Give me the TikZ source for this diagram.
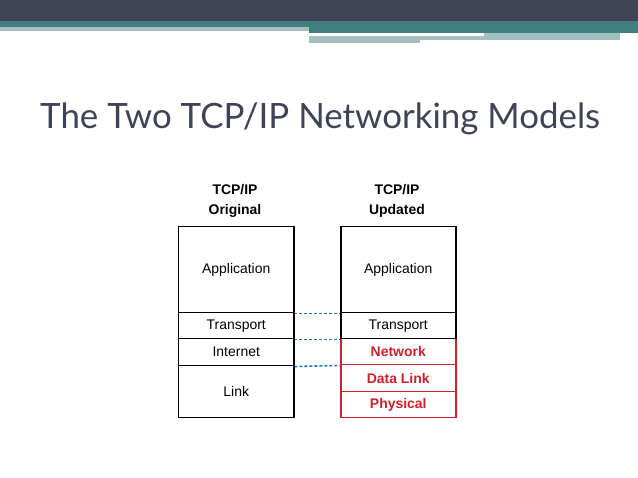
\documentclass[tikz,border=0pt]{standalone}
\usepackage{fontspec}
\setmainfont{Liberation Sans}
\newfontfamily\titlefont{Lato}
\definecolor{dark}{HTML}{404255}
\definecolor{teal}{HTML}{3F7F80}
\definecolor{lteal}{HTML}{A3BFC0}
\definecolor{lred}{HTML}{D0202A}
\definecolor{dblue}{HTML}{1F78B4}
\begin{document}
\begin{tikzpicture}[x=1bp,y=-1bp,
  lay/.style={draw=black,line width=1.5pt,minimum width=115bp,inner sep=0pt,font=\fontsize{14}{16}\selectfont},
  rlay/.style={lay,draw=lred,text=lred,font=\fontsize{14}{16}\selectfont\bfseries},
  hdr/.style={font=\fontsize{14}{20}\selectfont\bfseries,align=center},
  dl/.style={draw=dblue,line width=1.6pt,dash pattern=on 3pt off 2pt}]
\useasboundingbox (0,0) rectangle (638,478);
\fill[dark] (0,0) rectangle (638,21);
\fill[teal] (0,21) rectangle (638,27);
\fill[lteal] (0,27) rectangle (309,31);
\fill[teal] (309,27) rectangle (638,33);
\fill[lteal] (309,36) rectangle (484,40);
\fill[lteal] (484,33) rectangle (620,40);
\fill[lteal] (309,40) rectangle (420,43);
\node[anchor=west,text=dark,font=\titlefont\fontsize{35}{40}\selectfont,inner sep=0pt] (title) at (40,119) {The Two TCP/IP Networking Models};
\node[hdr] (h1) at (235,201) {TCP/IP\\Original};
\node[hdr] (h2) at (397,201) {TCP/IP\\Updated};
\node[lay,anchor=north west,minimum height=86bp] (a1) at (178,226) {Application};
\node[lay,anchor=north west,minimum height=26bp] (t1) at (178,312) {Transport};
\node[lay,anchor=north west,minimum height=27bp] (i1) at (178,338) {Internet};
\node[lay,anchor=north west,minimum height=52bp] (l1) at (178,365) {Link};
\node[rlay,anchor=north west,minimum height=26bp] (n2) at (340,338) {Network};
\node[rlay,anchor=north west,minimum height=27bp] (d2) at (340,364) {Data Link};
\node[rlay,anchor=north west,minimum height=26bp] (p2) at (340,391) {Physical};
\node[lay,anchor=north west,minimum height=86bp] (a2) at (340,226) {Application};
\node[lay,anchor=north west,minimum height=26bp] (t2) at (340,312) {Transport};
\draw[dl] (a1.south east) -- (a2.south west);
\draw[dl] (t1.south east) -- (t2.south west);
\draw[dl] (i1.south east) -- (n2.south west);
\end{tikzpicture}
\end{document}
